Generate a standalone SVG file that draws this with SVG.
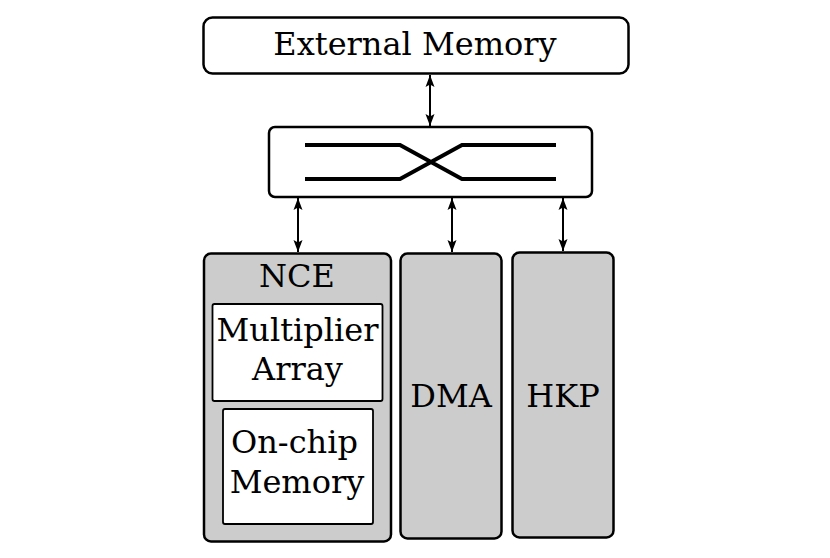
<svg xmlns="http://www.w3.org/2000/svg" width="830" height="558" viewBox="0 0 830 558">
<defs>
<marker id="ah" viewBox="0 0 12 10" refX="12" refY="5" markerWidth="12" markerHeight="10" markerUnits="userSpaceOnUse" orient="auto-start-reverse">
<path d="M0,0.5 L12,5 L0,9.5 L2.5,5 z" fill="#000"/>
</marker>
<style>
.box{stroke:#000;stroke-width:2.5;}
.grey{fill:#cccccc;}
.white{fill:#fff;}
.inner{fill:#fff;stroke:#000;stroke-width:1.8;}
.t{font-family:"DejaVu Serif",serif;font-size:32px;fill:#000;}
.c{text-anchor:middle;}
.conn{stroke:#000;stroke-width:2;fill:none;marker-start:url(#ah);marker-end:url(#ah);}
</style>
</defs>
<rect width="830" height="558" fill="#fff"/>
<g id="external-memory">
<rect class="box white" x="203.5" y="17.5" width="425" height="56" rx="9"/>
<text class="t c" x="415" y="55">External Memory</text>
</g>
<g id="switch">
<rect class="box white" x="269" y="127" width="323" height="70" rx="6"/>
<path d="M305,145 H400 L462,179 H556 M305,179 H400 L462,145 H556" fill="none" stroke="#000" stroke-width="4"/>
</g>
<g id="nce">
<rect class="box grey" x="204" y="253.5" width="187" height="288" rx="7"/>
<text class="t c" x="297" y="287">NCE</text>
</g>
<g id="multiplier-array">
<rect class="inner" x="212.5" y="304" width="170" height="97" rx="2"/>
<text class="t c" x="297.5" y="341">Multiplier</text>
<text class="t c" x="297.5" y="380">Array</text>
</g>
<g id="on-chip-memory">
<rect class="inner" x="223" y="409" width="150" height="115" rx="2"/>
<text class="t" x="231" y="453">On-chip</text>
<text class="t c" x="297" y="493">Memory</text>
</g>
<g id="dma">
<rect class="box grey" x="400.5" y="253.5" width="101" height="285" rx="7"/>
<text class="t c" x="451" y="407">DMA</text>
</g>
<g id="hkp">
<rect class="box grey" x="512.5" y="252.5" width="101" height="285" rx="7"/>
<text class="t c" x="563" y="407">HKP</text>
</g>
<g id="connectors">
<line class="conn" x1="430" y1="75" x2="430" y2="126"/>
<line class="conn" x1="298" y1="198" x2="298" y2="252"/>
<line class="conn" x1="452" y1="198" x2="452" y2="252"/>
<line class="conn" x1="563" y1="198" x2="563" y2="251"/>
</g>
</svg>
